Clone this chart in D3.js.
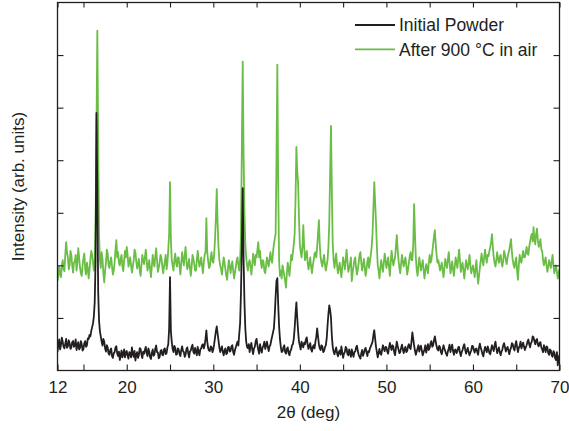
<!DOCTYPE html>
<html>
<head>
<meta charset="utf-8">
<script src="https://cdn.jsdelivr.net/npm/d3@7"></script>
<style>
  body { margin: 0; background: #fff; }
  svg { display: block; font-family: "Liberation Sans", Arial, sans-serif; }
</style>
</head>
<body>
<svg id="xrd" width="569" height="431"></svg>
<script>
// scan grid: 12 to 70 deg, 0.1 deg step
const scanStart = 12;
const scanStep = 0.1;

// intensities (arb. units), one row = 2 deg
const initialPowder = [
  70, 100, 118, 80, 96, 125, 110, 90, 84, 102, 120, 86, 92, 115, 104, 82, 88, 108, 112, 90,
  95, 118, 78, 96, 108, 80, 86, 112, 100, 76, 82, 104, 112, 90, 96, 122, 120, 135, 130, 150,
  165, 178, 205, 260, 420, 980, 700, 300, 190, 150, 130, 110, 95, 120, 110, 84, 72, 96, 88, 64,
  60, 78, 84, 55, 48, 66, 70, 88, 92, 64, 55, 72, 40, 58, 76, 50, 62, 80, 50, 68,
  74, 56, 45, 70, 66, 50, 88, 62, 52, 75, 38, 60, 70, 48, 58, 85, 82, 60, 47, 72,
  64, 78, 90, 66, 55, 84, 72, 50, 44, 68, 80, 56, 60, 84, 95, 70, 68, 46, 52, 74,
  78, 60, 58, 80, 84, 62, 66, 88, 100, 160, 355, 150, 110, 82, 70, 94, 86, 60, 62, 84,
  80, 62, 55, 78, 92, 74, 70, 52, 60, 82, 88, 66, 50, 72, 76, 90, 98, 70, 64, 86,
  72, 58, 90, 70, 58, 80, 84, 96, 100, 84, 96, 120, 153, 110, 86, 76, 74, 92, 88, 70,
  80, 100, 125, 150, 168, 140, 115, 88, 70, 82, 92, 70, 58, 76, 84, 62, 66, 88, 90, 72,
  75, 92, 96, 70, 60, 78, 88, 100, 110, 95, 140, 180, 300, 480, 694, 420, 260, 160, 110, 90,
  85, 100, 70, 92, 105, 80, 62, 84, 90, 112, 120, 96, 78, 64, 100, 82, 68, 88, 94, 110,
  82, 96, 110, 90, 74, 92, 98, 115, 130, 145, 160, 210, 280, 340, 351, 250, 170, 120, 90, 70,
  72, 88, 96, 70, 64, 82, 88, 66, 58, 74, 80, 96, 100, 120, 160, 215, 259, 200, 150, 110,
  95, 80, 110, 96, 88, 106, 100, 118, 126, 98, 82, 94, 104, 80, 72, 90, 96, 84, 110, 128,
  160, 130, 100, 84, 78, 96, 92, 70, 74, 88, 96, 120, 170, 215, 248, 230, 200, 130, 90, 72,
  62, 76, 88, 66, 54, 70, 76, 60, 92, 70, 48, 64, 70, 90, 84, 62, 58, 80, 66, 52,
  80, 64, 52, 70, 72, 88, 94, 74, 60, 52, 45, 66, 78, 56, 66, 80, 86, 68, 55, 74,
  70, 84, 92, 100, 110, 135, 153, 120, 90, 70, 50, 68, 82, 64, 60, 78, 96, 82, 74, 90,
  88, 72, 64, 86, 105, 90, 78, 96, 92, 70, 58, 84, 110, 94, 80, 66, 70, 86, 98, 80,
  66, 82, 90, 70, 74, 92, 100, 86, 82, 110, 145, 120, 96, 76, 60, 72, 84, 96, 72, 88,
  94, 74, 58, 70, 80, 96, 68, 84, 100, 78, 86, 104, 112, 90, 96, 115, 130, 110, 92, 80,
  76, 94, 88, 70, 62, 80, 96, 84, 74, 64, 56, 72, 84, 98, 70, 86, 98, 74, 60, 78,
  80, 66, 72, 88, 90, 68, 55, 70, 78, 92, 100, 80, 64, 76, 86, 70, 58, 68, 76, 94,
  92, 78, 68, 82, 84, 70, 60, 88, 102, 86, 76, 62, 54, 74, 90, 80, 70, 92, 82, 66,
  62, 80, 96, 84, 74, 96, 110, 86, 66, 78, 88, 70, 58, 72, 80, 96, 104, 88, 72, 84,
  90, 76, 62, 78, 86, 104, 100, 84, 76, 98, 112, 90, 70, 86, 94, 110, 84, 96, 106, 90,
  78, 88, 96, 110, 118, 100, 88, 104, 110, 130, 126, 112, 100, 116, 120, 98, 92, 104, 108, 88,
  80, 70, 96, 84, 70, 92, 88, 66, 60, 80, 76, 58, 52, 74, 68, 46, 40, 70, 20, 45,
  60
];

const after900 = [
  340, 360, 395, 370, 355, 400, 420, 385, 378, 440, 488, 450, 430, 385, 400, 455, 440, 400, 372, 410,
  415, 440, 380, 410, 465, 430, 392, 370, 360, 400, 428, 445, 385, 365, 410, 390, 350, 380, 425, 455,
  440, 410, 380, 420, 560, 900, 1293, 880, 520, 420, 390, 450, 425, 370, 335, 380, 410, 460, 445, 400,
  390, 415, 430, 395, 365, 380, 412, 460, 496, 430, 450, 410, 400, 425, 440, 395, 378, 420, 455, 430,
  470, 440, 395, 410, 430, 400, 372, 395, 418, 460, 450, 415, 388, 405, 425, 380, 360, 400, 440, 420,
  405, 430, 460, 420, 380, 400, 420, 385, 355, 395, 440, 410, 395, 435, 465, 420, 375, 392, 410, 440,
  430, 400, 370, 392, 415, 440, 385, 410, 460, 520, 717, 500, 420, 400, 380, 420, 445, 410, 395, 430,
  430, 395, 365, 410, 450, 420, 400, 440, 470, 415, 385, 400, 425, 390, 360, 395, 440, 425, 405, 380,
  380, 420, 455, 420, 395, 410, 430, 400, 370, 410, 440, 450, 580, 450, 420, 390, 395, 430, 450, 415,
  410, 440, 500, 580, 690, 560, 470, 420, 400, 385, 365, 400, 430, 410, 385, 360, 345, 390, 420, 395,
  370, 400, 415, 380, 350, 370, 395, 420, 430, 400, 380, 420, 520, 850, 1175, 820, 600, 480, 430, 400,
  380, 410, 420, 395, 365, 400, 445, 420, 400, 440, 430, 460, 488, 430, 455, 410, 390, 420, 415, 380,
  370, 400, 430, 410, 395, 425, 450, 420, 410, 450, 480, 500, 520, 800, 1164, 700, 420, 360, 380, 350,
  400, 380, 360, 340, 315, 370, 410, 385, 360, 400, 440, 420, 450, 480, 520, 650, 851, 760, 713, 580,
  480, 450, 430, 470, 553, 470, 420, 440, 455, 410, 385, 405, 430, 395, 370, 400, 420, 445, 450, 430,
  470, 520, 572, 480, 430, 410, 395, 420, 440, 405, 380, 400, 420, 470, 560, 750, 931, 680, 480, 420,
  390, 420, 445, 400, 370, 390, 410, 380, 355, 395, 430, 410, 385, 420, 460, 415, 375, 390, 405, 430,
  340, 370, 395, 420, 430, 390, 365, 385, 410, 440, 450, 410, 380, 400, 425, 390, 360, 385, 415, 430,
  390, 415, 440, 470, 520, 620, 717, 640, 560, 470, 400, 380, 350, 390, 420, 395, 375, 410, 445, 420,
  390, 410, 430, 395, 360, 410, 455, 425, 400, 415, 430, 470, 515, 460, 420, 390, 370, 405, 440, 415,
  395, 415, 430, 400, 365, 385, 410, 435, 450, 420, 420, 480, 633, 520, 430, 385, 360, 395, 430, 405,
  380, 400, 420, 385, 350, 380, 405, 390, 370, 410, 440, 410, 420, 450, 480, 510, 534, 480, 440, 410,
  420, 400, 380, 395, 410, 380, 355, 390, 425, 405, 390, 420, 450, 410, 370, 390, 415, 385, 360, 395,
  430, 410, 390, 425, 460, 420, 375, 395, 410, 380, 350, 385, 420, 400, 385, 410, 440, 400, 370, 385,
  400, 380, 355, 390, 420, 370, 330, 360, 390, 420, 445, 415, 400, 430, 460, 430, 410, 440, 435, 455,
  470, 490, 519, 470, 430, 410, 395, 420, 450, 425, 410, 430, 440, 410, 395, 420, 455, 440, 420, 405,
  430, 445, 460, 480, 500, 450, 420, 400, 390, 415, 430, 380, 345, 400, 440, 420, 410, 435, 455, 430,
  430, 450, 470, 445, 440, 470, 490, 510, 520, 490, 545, 500, 480, 520, 540, 495, 470, 485, 500, 460,
  455, 420, 400, 415, 430, 400, 375, 395, 420, 405, 390, 415, 440, 400, 370, 385, 400, 375, 350, 370,
  385
];

const seriesNames = ['Initial Powder', 'After 900 °C in air'];
const seriesColors = ['#231f20', '#6abd45'];

const xTicks = [12, 15, 20, 25, 30, 35, 40, 45, 50, 55, 60, 65, 70];
const xLabels = [12, 20, 30, 40, 50, 60, 70];
const yTicks = [200, 400, 600, 800, 1000, 1200];

const svg = d3.select('#xrd');
const ink = '#231f20';

const x = d3.scaleLinear().domain([12, 70]).range([57.5, 559.5]);
const y = d3.scaleLinear().domain([0, 1400]).range([370.5, 2.5]);

const line = d3
  .line()
  .x((d, i) => x(scanStart + i * scanStep))
  .y(d => y(d));

const series = [
  { name: seriesNames[1], color: seriesColors[1], values: after900 },
  { name: seriesNames[0], color: seriesColors[0], values: initialPowder },
];

svg
  .append('defs')
  .append('clipPath')
  .attr('id', 'plotClip')
  .append('rect')
  .attr('x', x(12))
  .attr('y', y(1400))
  .attr('width', x(70) - x(12))
  .attr('height', y(0) - y(1400));

svg
  .append('g')
  .attr('clip-path', 'url(#plotClip)')
  .selectAll('path')
  .data(series)
  .join('path')
  .attr('fill', 'none')
  .attr('stroke', d => d.color)
  .attr('stroke-width', 1.8)
  .attr('stroke-linejoin', 'round')
  .attr('d', d => line(d.values));

// axes, ticks pointing inward on all four sides
function styleAxis(g) {
  g.select('.domain').remove();
  g.selectAll('.tick line').attr('stroke', ink).attr('stroke-width', 1.1);
  g.selectAll('.tick text').attr('fill', ink).attr('font-size', 17);
  g.attr('font-family', null);
}

svg
  .append('g')
  .attr('transform', `translate(0,${y(0)})`)
  .call(
    d3
      .axisBottom(x)
      .tickValues(xTicks)
      .tickSizeInner(-6)
      .tickSizeOuter(0)
      .tickPadding(10.5)
      .tickFormat(d => (xLabels.includes(d) ? d : ''))
  )
  .call(styleAxis);

svg
  .append('g')
  .attr('transform', `translate(0,${y(1400)})`)
  .call(d3.axisTop(x).tickValues(xTicks).tickSizeInner(-5).tickSizeOuter(0).tickFormat(''))
  .call(styleAxis);

svg
  .append('g')
  .attr('transform', `translate(${x(12)},0)`)
  .call(d3.axisLeft(y).tickValues(yTicks).tickSizeInner(-6).tickSizeOuter(0).tickFormat(''))
  .call(styleAxis);

svg
  .append('g')
  .attr('transform', `translate(${x(70)},0)`)
  .call(d3.axisRight(y).tickValues(yTicks).tickSizeInner(-6).tickSizeOuter(0).tickFormat(''))
  .call(styleAxis);

svg
  .append('rect')
  .attr('x', x(12))
  .attr('y', y(1400))
  .attr('width', x(70) - x(12))
  .attr('height', y(0) - y(1400))
  .attr('fill', 'none')
  .attr('stroke', ink)
  .attr('stroke-width', 1.3);

// axis titles
svg
  .append('text')
  .attr('x', (x(12) + x(70)) / 2)
  .attr('y', 418)
  .attr('text-anchor', 'middle')
  .attr('font-size', 17)
  .attr('fill', ink)
  .text('2θ (deg)');

svg
  .append('text')
  .attr('transform', `translate(24,${(y(0) + y(1400)) / 2}) rotate(-90)`)
  .attr('text-anchor', 'middle')
  .attr('font-size', 17)
  .attr('fill', ink)
  .text('Intensity (arb. units)');

// legend
const legend = svg
  .append('g')
  .selectAll('g')
  .data(seriesNames)
  .join('g')
  .attr('transform', (d, i) => `translate(355,${25 + i * 24.3})`);

legend
  .append('line')
  .attr('x1', 0)
  .attr('x2', 40)
  .attr('stroke', (d, i) => seriesColors[i])
  .attr('stroke-width', 1.8);

legend
  .append('text')
  .attr('x', 44)
  .attr('y', 6.3)
  .attr('font-size', 17.5)
  .attr('fill', ink)
  .text(d => d);
</script>
</body>
</html>
